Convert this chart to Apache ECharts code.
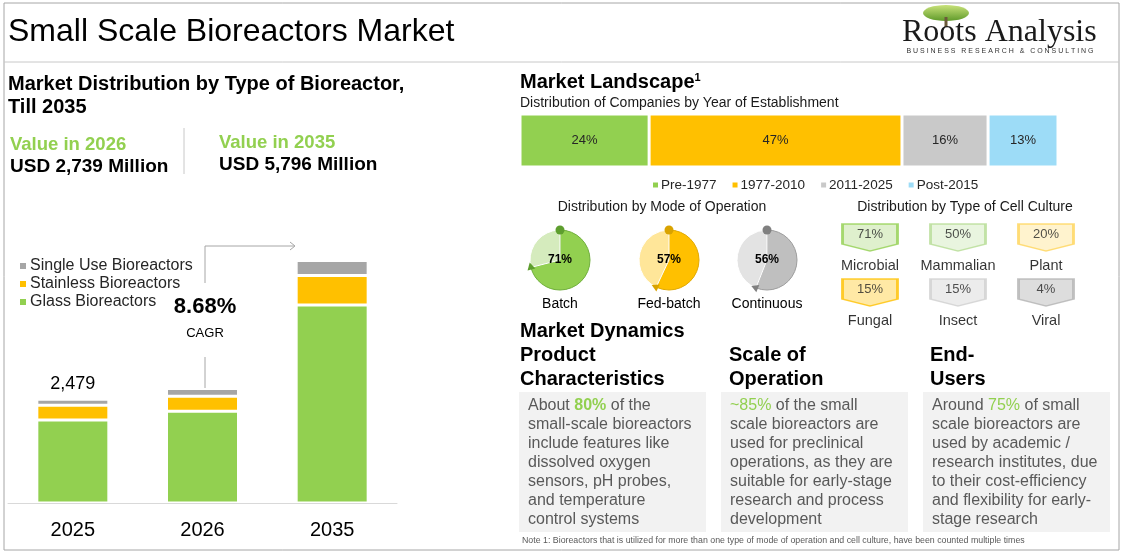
<!DOCTYPE html>
<html>
<head>
<meta charset="utf-8">
<script src="https://cdn.jsdelivr.net/npm/echarts@6/dist/echarts.min.js"></script>
<style>
  html, body { margin: 0; padding: 0; background: #fff; }
  #chart { width: 1123px; height: 553px; }
</style>
</head>
<body>
<div id="chart"></div>
<script type="text/javascript">

// market size by year (USD million)
var years = ['2025', '2026', '2035'];
var glass = [1985, 2194, 4736];
var stainless = [350, 360, 700];
var singleUse = [144, 185, 360];
var totals = [2479, 2739, 5796];

// companies by year of establishment (%)
var estNames = ['Pre-1977', '1977-2010', '2011-2025', 'Post-2015'];
var estShares = [24, 47, 16, 13];

// mode of operation (%)
var modeNames = ['Batch', 'Fed-batch', 'Continuous'];
var modeShares = [71, 57, 56];

// type of cell culture (%)
var cellNames = ['Microbial', 'Mammalian', 'Plant', 'Fungal', 'Insect', 'Viral'];
var cellShares = [71, 50, 20, 15, 15, 4];

var FONT = 'Arial, "Liberation Sans", sans-serif';
var GREEN = '#92d050', YELLOW = '#ffc000', GREY = '#a6a6a6';

var chart = echarts.init(document.getElementById('chart'));

// pie look, one per mode
var modeLook = [
  { dark: '#92d050', light: '#d5ebbd', edge: '#6fae3b', dot: '#5e9e2e', cx: 560 },
  { dark: '#ffc000', light: '#ffe699', edge: '#e0a800', dot: '#d9a300', cx: 669 },
  { dark: '#bfbfbf', light: '#e3e3e3', edge: '#9c9c9c', dot: '#808080', cx: 767 }
];
var pieCy = 260, pieR = 30;

// badge look, one per cell type
var cellLook = [
  { fill: '#d7ecc1', edge: '#92d050' },
  { fill: '#e4f2d7', edge: '#b5dc94' },
  { fill: '#fff0c2', edge: '#ffd55a' },
  { fill: '#ffe38f', edge: '#ffc000' },
  { fill: '#e7e7e7', edge: '#cfcfcf' },
  { fill: '#d4d4d4', edge: '#b3b3b3' }
];
var badgePath = 'path://M0,0 L55,0 L55,20 L27.5,27 L0,20 Z';

var series = [];

// left stacked bars
function barSeries(name, data, color) {
  return {
    name: name, type: 'bar', stack: 'mkt', xAxisIndex: 0, yAxisIndex: 0,
    barWidth: 72, data: data,
    itemStyle: { color: color, borderColor: '#fff', borderWidth: 1.5 },
    emphasis: { disabled: true }
  };
}
series.push(barSeries('Glass Bioreactors', glass, GREEN));
series.push(barSeries('Stainless Bioreactors', stainless, YELLOW));
var topSeries = barSeries('Single Use Bioreactors', singleUse, GREY);
topSeries.label = {
  show: true, position: 'top', distance: 6, fontSize: 18, color: '#000', fontFamily: FONT,
  formatter: function (p) { return p.dataIndex === 0 ? totals[0].toLocaleString('en-US') : ''; }
};
series.push(topSeries);

// establishment bar
var estColors = ['#92d050', '#ffc000', '#c9c9c9', '#9ddcf7'];
estNames.forEach(function (n, i) {
  series.push({
    name: n, type: 'bar', stack: 'est', xAxisIndex: 1, yAxisIndex: 1,
    barWidth: '100%', data: [estShares[i]],
    itemStyle: { color: estColors[i], borderColor: '#fff', borderWidth: 1.5 },
    label: { show: true, position: 'inside', formatter: '{c}%', fontSize: 13, color: '#262626', fontFamily: FONT },
    emphasis: { disabled: true }
  });
});

// mode of operation pies
modeNames.forEach(function (n, i) {
  var lk = modeLook[i];
  series.push({
    type: 'pie', center: [lk.cx, pieCy], radius: pieR, startAngle: 90, clockwise: true,
    silent: true, labelLine: { show: false },
    data: [
      { value: modeShares[i], itemStyle: { color: lk.dark, borderColor: lk.edge, borderWidth: 1 },
        label: { show: true, position: 'center', formatter: '{c}%', fontSize: 12, fontWeight: 'bold', color: '#000', fontFamily: FONT } },
      { value: 100 - modeShares[i], itemStyle: { color: lk.light, borderColor: '#fff', borderWidth: 1 }, label: { show: false } }
    ]
  });
});

// cell culture badges
series.push({
  type: 'scatter', xAxisIndex: 2, yAxisIndex: 2, symbol: badgePath, symbolSize: [55, 27],
  silent: true,
  data: cellNames.map(function (n, i) {
    return {
      value: [i % 3 + 0.5, Math.floor(i / 3) + 0.5],
      itemStyle: { color: cellLook[i].fill, borderColor: cellLook[i].edge, borderWidth: 2 },
      label: { show: true, position: 'inside', offset: [0, -3], formatter: cellShares[i] + '%', fontSize: 13, color: '#262626', fontFamily: FONT }
    };
  })
});
series.push({
  type: 'scatter', xAxisIndex: 2, yAxisIndex: 2, symbolSize: 0, silent: true,
  data: cellNames.map(function (n, i) {
    return {
      value: [i % 3 + 0.5, Math.floor(i / 3) + 0.5],
      label: { show: true, position: 'inside', offset: [0, 28], formatter: n, fontSize: 14.5, color: '#000', fontFamily: FONT }
    };
  })
});

// decorations for the pies: start dot and arrow head at end of arc
var pieGraphics = [];
modeNames.forEach(function (n, i) {
  var lk = modeLook[i];
  pieGraphics.push({ type: 'circle', shape: { cx: lk.cx, cy: pieCy - pieR, r: 4.5 }, style: { fill: lk.dot }, z: 100 });
  var th = (90 - modeShares[i] * 3.6) * Math.PI / 180;
  var px = lk.cx + pieR * Math.cos(th), py = pieCy - pieR * Math.sin(th);
  var dx = Math.sin(th), dy = Math.cos(th);
  var nx = -dy, ny = dx;
  pieGraphics.push({
    type: 'polygon', z: 100,
    shape: { points: [[px + dx * 5, py + dy * 5], [px - dx * 2 + nx * 4, py - dy * 2 + ny * 4], [px - dx * 2 - nx * 4, py - dy * 2 - ny * 4]] },
    style: { fill: lk.dot }
  });
  pieGraphics.push({ type: 'text', x: lk.cx, y: 304, style: { text: n, font: '14px ' + FONT, fill: '#000', textAlign: 'center', textVerticalAlign: 'middle' } });
});

function txt(x, y, s, font, fill, align) {
  return { type: 'text', x: x, y: y, style: { text: s, font: font, fill: fill || '#000', textAlign: align || 'left', textVerticalAlign: 'middle' } };
}
function box(x, w, lines) {
  return [
    { type: 'rect', shape: { x: x, y: 392, width: w, height: 140 }, style: { fill: '#f2f2f2' }, z: -1 },
    { type: 'text', x: x + 9, y: 396, style: {
      text: lines.join('\n'), font: '16px ' + FONT, fill: '#595959', lineHeight: 19, textVerticalAlign: 'top',
      rich: { g: { fill: GREEN, font: '16px ' + FONT, lineHeight: 19 }, gb: { fill: GREEN, font: 'bold 16px ' + FONT, lineHeight: 19 } }
    } }
  ];
}

var graphics = [
  { type: 'rect', shape: { x: 4, y: 3, width: 1115, height: 547 }, style: { fill: 'none', stroke: '#a6a6a6', lineWidth: 1 } },
  { type: 'line', shape: { x1: 4, y1: 62, x2: 1119, y2: 62 }, style: { stroke: '#c8c8c8', lineWidth: 1 } },
  txt(8, 32, 'Small Scale Bioreactors Market', '32px ' + FONT),
  // logo
  { type: 'ellipse', shape: { cx: 946, cy: 13, rx: 23, ry: 8 }, style: { fill: new echarts.graphic.LinearGradient(0, 0, 0, 1, [{ offset: 0, color: '#c9e27a' }, { offset: 1, color: '#5f9a2a' }]) } },
  { type: 'rect', shape: { x: 944.5, y: 17, width: 3, height: 10 }, style: { fill: '#6b5a3a' } },
  txt(902, 33, 'Roots Analysis', '32px "Liberation Serif", "Times New Roman", serif', '#1a1a1a'),
  txt(1000, 51, 'B U S I N E S S   R E S E A R C H   &   C O N S U L T I N G', '7px ' + FONT, '#333', 'center'),
  // left header
  txt(8, 84, 'Market Distribution by Type of Bioreactor,', 'bold 20px ' + FONT),
  txt(8, 107, 'Till 2035', 'bold 20px ' + FONT),
  txt(10, 145, 'Value in 2026', 'bold 18.5px ' + FONT, GREEN),
  txt(10, 167, 'USD 2,739 Million', 'bold 19px ' + FONT),
  { type: 'line', shape: { x1: 184, y1: 128, x2: 184, y2: 174 }, style: { stroke: '#c8c8c8', lineWidth: 1 } },
  txt(219, 143, 'Value in 2035', 'bold 18.5px ' + FONT, GREEN),
  txt(219, 165, 'USD 5,796 Million', 'bold 19px ' + FONT),
  // CAGR
  { type: 'polyline', shape: { points: [[205, 388], [205, 357]] }, style: { stroke: GREY, lineWidth: 1 } },
  { type: 'polyline', shape: { points: [[205, 283], [205, 246], [294, 246]] }, style: { stroke: GREY, lineWidth: 1 } },
  { type: 'polyline', shape: { points: [[290, 242], [295, 246], [290, 250]] }, style: { stroke: GREY, lineWidth: 1, fill: 'none' } },
  txt(205, 307, '8.68%', 'bold 22px ' + FONT, '#000', 'center'),
  txt(205, 333, 'CAGR', '13px ' + FONT, '#000', 'center'),
  // right header
  { type: 'text', x: 520, y: 82, style: { text: 'Market Landscape{s|1}', font: 'bold 20px ' + FONT, fill: '#000', textVerticalAlign: 'middle',
    rich: { s: { font: 'bold 11px ' + FONT, fill: '#000', verticalAlign: 'top', padding: [0, 0, 9, 0] } } } },
  txt(520, 103, 'Distribution of Companies by Year of Establishment', '14px ' + FONT, '#1a1a1a'),
  txt(662, 207, 'Distribution by Mode of Operation', '14px ' + FONT, '#1a1a1a', 'center'),
  txt(965, 207, 'Distribution by Type of Cell Culture', '14px ' + FONT, '#1a1a1a', 'center'),
  // market dynamics
  txt(520, 331, 'Market Dynamics', 'bold 20px ' + FONT),
  txt(520, 355, 'Product', 'bold 20px ' + FONT),
  txt(520, 379, 'Characteristics', 'bold 20px ' + FONT),
  txt(729, 355, 'Scale of', 'bold 20px ' + FONT),
  txt(729, 379, 'Operation', 'bold 20px ' + FONT),
  txt(930, 355, 'End-', 'bold 20px ' + FONT),
  txt(930, 379, 'Users', 'bold 20px ' + FONT),
  txt(522, 541, 'Note 1: Bioreactors that is utilized for more than one type of mode of operation and cell culture, have been counted multiple times', '8.8px ' + FONT, '#595959')
];
graphics = graphics.concat(box(519, 187, [
  'About {gb|80%} of the', 'small-scale bioreactors', 'include features like', 'dissolved oxygen',
  'sensors, pH probes,', 'and temperature', 'control systems'
]));
graphics = graphics.concat(box(721, 187, [
  '{g|~85%} of the small', 'scale bioreactors are', 'used for preclinical', 'operations, as they are',
  'suitable for early-stage', 'research and process', 'development'
]));
graphics = graphics.concat(box(923, 187, [
  'Around {g|75%} of small', 'scale bioreactors are', 'used by academic /', 'research institutes, due',
  'to their cost-efficiency', 'and flexibility for early-', 'stage research'
]));
graphics = graphics.concat(pieGraphics);

var option = {
  animation: false,
  textStyle: { fontFamily: FONT },
  legend: [
    {
      data: ['Single Use Bioreactors', 'Stainless Bioreactors', 'Glass Bioreactors'],
      orient: 'vertical', left: 13, top: 253, itemWidth: 8, itemHeight: 8, itemGap: 2,
      icon: 'rect', selectedMode: false,
      textStyle: { fontSize: 16, color: '#262626', lineHeight: 15, padding: [0, 0, 0, -2] }
    },
    {
      data: estNames, left: 646, top: 173, itemWidth: 7, itemHeight: 7, itemGap: 14,
      icon: 'rect', selectedMode: false,
      textStyle: { fontSize: 13.5, color: '#262626', padding: [0, 0, 0, -3] }
    }
  ],
  grid: [
    { left: 8, top: 252, width: 389, height: 251 },
    { left: 520, top: 114, width: 538, height: 53 },
    { left: 826, top: 210, width: 264, height: 110 }
  ],
  xAxis: [
    { type: 'category', gridIndex: 0, data: years,
      axisLine: { lineStyle: { color: '#d9d9d9' } }, axisTick: { show: false },
      axisLabel: { fontSize: 20, color: '#000', margin: 17 } },
    { type: 'value', gridIndex: 1, min: 0, max: 100, show: false },
    { type: 'value', gridIndex: 2, min: 0, max: 3, show: false }
  ],
  yAxis: [
    { type: 'value', gridIndex: 0, min: 0, max: 6000, show: false },
    { type: 'category', gridIndex: 1, data: ['share'], show: false },
    { type: 'value', gridIndex: 2, min: 0, max: 2, inverse: true, show: false }
  ],
  series: series,
  graphic: graphics
};

chart.setOption(option);

</script>
</body>
</html>
